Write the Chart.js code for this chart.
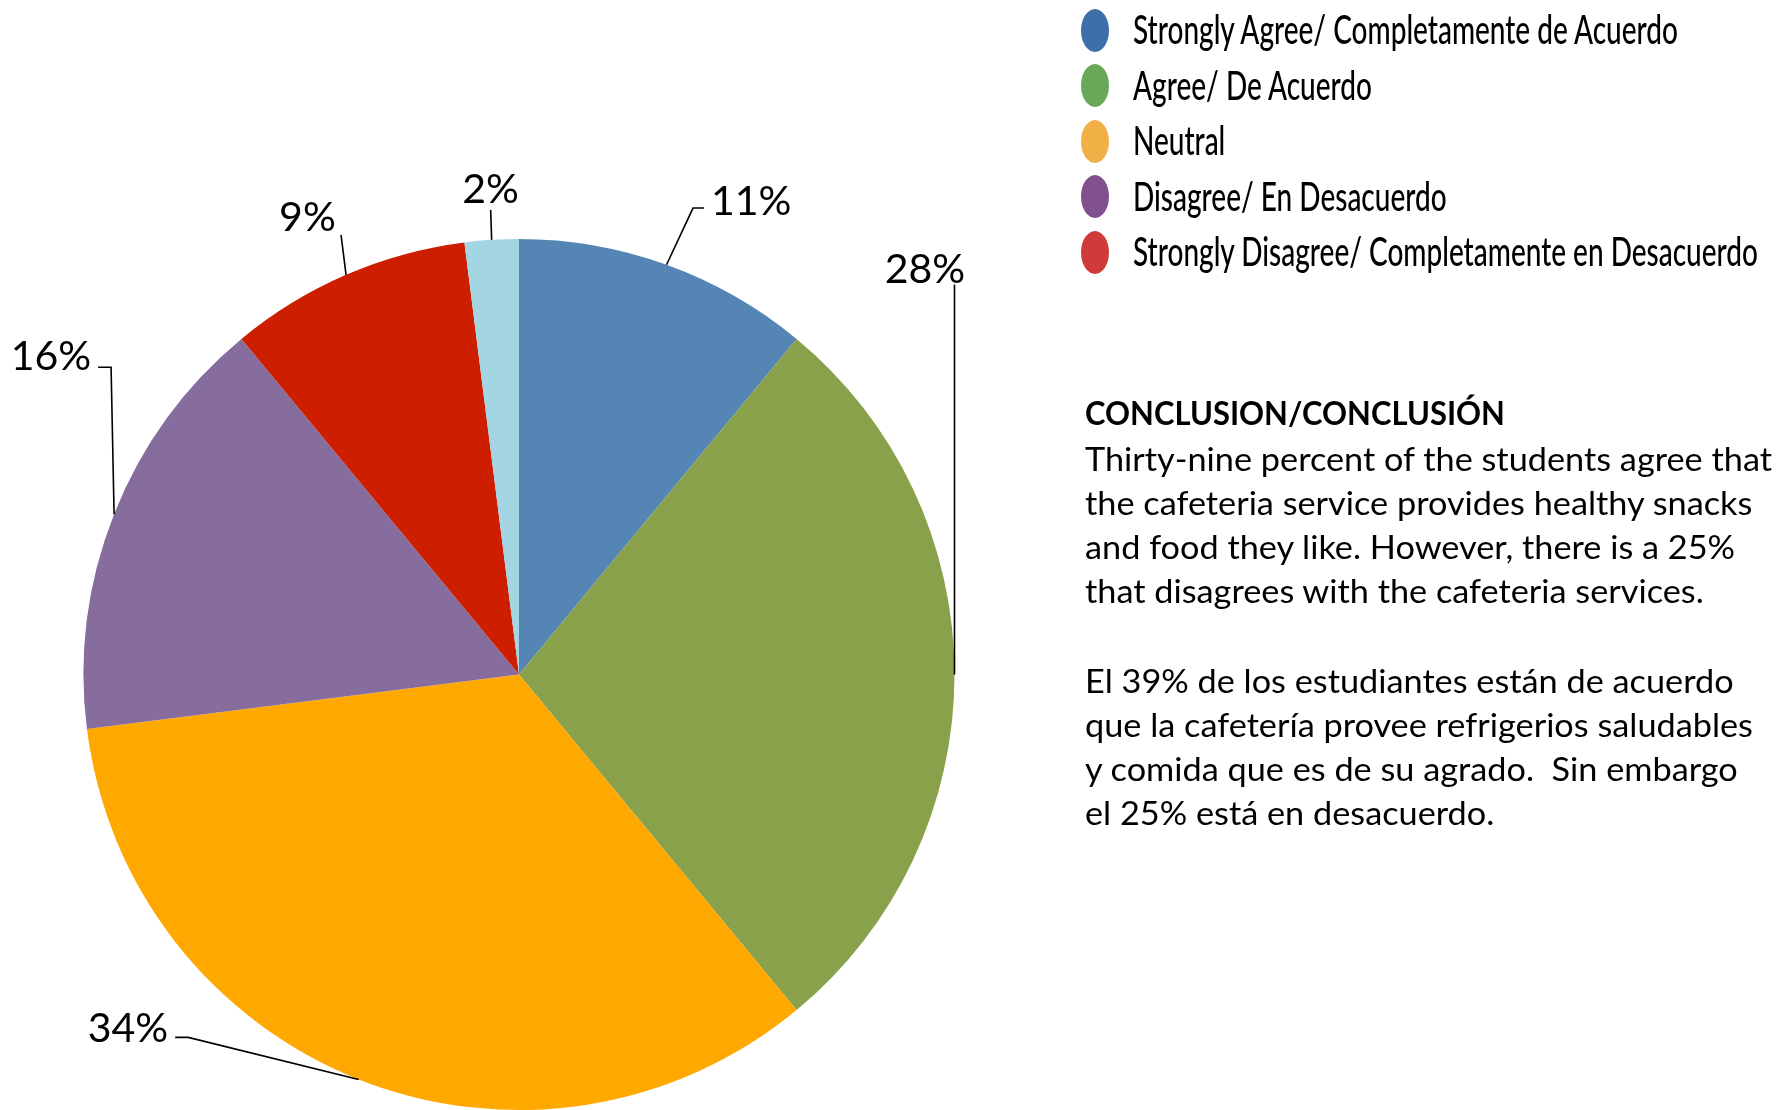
<!DOCTYPE html>
<html>
<head>
<meta charset="utf-8">
<title>Cafeteria survey</title>
<script src="https://cdn.jsdelivr.net/npm/chart.js@4.4.1/dist/chart.umd.min.js"></script>
<style>
  html, body { margin: 0; padding: 0; background: #fff; width: 1781px; height: 1110px; overflow: hidden; }
  #wrap { position: relative; width: 1781px; height: 1110px; }
  #pie { position: absolute; left: 0; top: 0; }
  .lg-dot { position: absolute; left: 1081px; width: 28px; height: 43px; border-radius: 50%; }
  .lg-text { position: absolute; left: 1133px; white-space: pre; font-family: Lato, "Open Sans", sans-serif;
             font-size: 41px; font-weight: 500; line-height: 55px; color: #000; transform-origin: 0 50%; }
  .txt { position: absolute; left: 1085px; white-space: pre; font-family: Lato, "Open Sans", sans-serif;
         font-size: 32px; line-height: 44px; color: #000; transform-origin: 0 50%; }
  .txt.title { font-weight: bold; }
</style>
</head>
<body>
<div id="wrap">
  <canvas id="pie" width="1781" height="1110"></canvas>
</div>
<script>
// ---- data ----
const categories = [
  'Strongly Agree/ Completamente de Acuerdo',
  'Agree/ De Acuerdo',
  'Neutral',
  'Disagree/ En Desacuerdo',
  'Strongly Disagree/ Completamente en Desacuerdo',
  ''
];
const percentages = [11, 28, 34, 16, 9, 2];

const conclusionTitle = 'CONCLUSION/CONCLUSIÓN';
const conclusionEnglish = [
  'Thirty-nine percent of the students agree that',
  'the cafeteria service provides healthy snacks',
  'and food they like. However, there is a 25%',
  'that disagrees with the cafeteria services.'
];
const conclusionSpanish = [
  'El 39% de los estudiantes están de acuerdo',
  'que la cafetería provee refrigerios saludables',
  'y comida que es de su agrado.  Sin embargo',
  'el 25% está en desacuerdo.'
];

// ---- styles ----
const sliceColors = ['#5585b5', '#8aa14c', '#ffa800', '#866d9d', '#cd1e00', '#a3d5e3'];
const legendColors = ['#3f6fa8', '#69a858', '#f0b045', '#81508f', '#cf3b3b'];

// leader line and label placement, relative to each slice's outer mid point
const labelLayout = [
  { path: [[26.5, -56.7], [37.5, -56.7]], text: [44.5, -65], align: 'left' },
  { path: [[0, -390]],                    text: [-29.5, -406], align: 'center' },
  { path: [[-170.5, -42], [-183.5, -42]], text: [-190.5, -52], align: 'right' },
  { path: [[-3, -147], [-16, -147]],      text: [-23, -159], align: 'right' },
  { path: [[-5, -40]],                    text: [-38.6, -58.8], align: 'center' },
  { path: [[-1, -30]],                    text: [-1, -52], align: 'center' }
];

const labelPlugin = {
  id: 'percentLabels',
  afterDatasetsDraw(chart) {
    const ctx = chart.ctx;
    const meta = chart.getDatasetMeta(0);
    const fontSize = 41;
    ctx.save();
    ctx.strokeStyle = '#000';
    ctx.lineWidth = 1.6;
    ctx.fillStyle = '#000';
    ctx.font = fontSize + 'px Lato, "Open Sans", sans-serif';
    ctx.textBaseline = 'alphabetic';
    meta.data.forEach((arc, i) => {
      const p = arc.getProps(['x', 'y', 'startAngle', 'endAngle', 'outerRadius'], true);
      const mid = (p.startAngle + p.endAngle) / 2;
      const ax = p.x + Math.cos(mid) * p.outerRadius;
      const ay = p.y + Math.sin(mid) * p.outerRadius;
      const lay = labelLayout[i];
      ctx.beginPath();
      ctx.moveTo(ax, ay);
      lay.path.forEach(([dx, dy]) => ctx.lineTo(ax + dx, ay + dy));
      ctx.stroke();
      ctx.textAlign = lay.align;
      ctx.fillText(percentages[i] + '%', ax + lay.text[0], ay + lay.text[1] + fontSize * 0.36);
    });
    ctx.restore();
  }
};

new Chart(document.getElementById('pie'), {
  type: 'pie',
  data: {
    labels: categories,
    datasets: [{
      data: percentages,
      backgroundColor: sliceColors,
      borderWidth: 0
    }]
  },
  options: {
    responsive: false,
    animation: false,
    layout: { padding: { left: 83, top: 239, right: 826, bottom: 0 } },
    plugins: {
      legend: { display: false },
      tooltip: { enabled: false }
    }
  },
  plugins: [labelPlugin]
});

// ---- legend ----
const wrap = document.getElementById('wrap');
const legendRowY = [30, 85.5, 141, 196.5, 252];
const legendTexts = [];
categories.forEach((name, i) => {
  if (!name) return;
  const dot = document.createElement('div');
  dot.className = 'lg-dot';
  dot.style.background = legendColors[i];
  dot.style.top = (legendRowY[i] - 21.5) + 'px';
  wrap.appendChild(dot);
  const t = document.createElement('div');
  t.className = 'lg-text';
  t.textContent = name;
  t.style.top = (legendRowY[i] - 29) + 'px';
  wrap.appendChild(t);
  legendTexts.push(t);
});
const widest = legendTexts[legendTexts.length - 1];
const lgScale = 625 / widest.getBoundingClientRect().width;
legendTexts.forEach(t => { t.style.transform = 'scaleX(' + lgScale + ')'; });

// ---- conclusion text ----
function addLine(text, centerY, cls) {
  const d = document.createElement('div');
  d.className = 'txt' + (cls ? ' ' + cls : '');
  d.textContent = text;
  d.style.top = (centerY - 22) + 'px';
  wrap.appendChild(d);
  return d;
}
const title = addLine(conclusionTitle, 413, 'title');
title.style.transform = 'scaleX(' + (420 / title.getBoundingClientRect().width) + ')';
const bodyY = [459, 503, 547, 591, 681, 725, 769, 813];
const bodyLines = conclusionEnglish.concat(conclusionSpanish).map((s, i) => addLine(s, bodyY[i]));
const bodyScale = 687 / bodyLines[0].getBoundingClientRect().width;
bodyLines.forEach(d => { d.style.transform = 'scaleX(' + bodyScale + ')'; });
</script>
</body>
</html>
